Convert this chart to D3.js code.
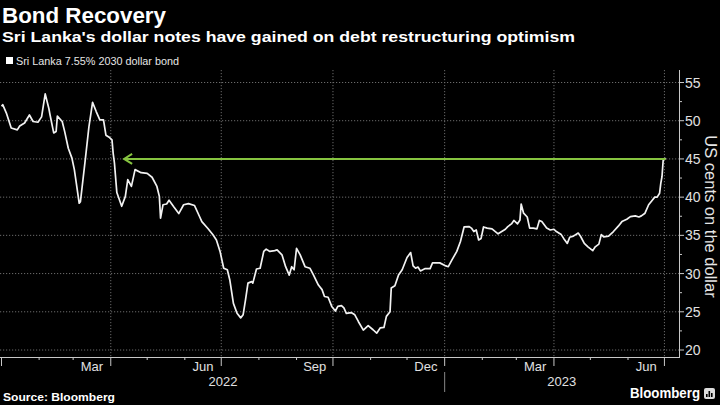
<!DOCTYPE html>
<html><head><meta charset="utf-8">
<script src="https://cdn.jsdelivr.net/npm/d3@7"></script>
<style>html,body{margin:0;padding:0;background:#000;}svg{display:block;}</style>
</head><body>
<svg id="chart" width="720" height="405"></svg>
<script>
const titleText = "Bond Recovery";
const subtitleText = "Sri Lanka's dollar notes have gained on debt restructuring optimism";
const legendText = "Sri Lanka 7.55% 2030 dollar bond";
const yAxisTitle = "US cents on the dollar";
const sourceText = "Source: Bloomberg";

const dates = [
"2022-01-01","2022-01-02","2022-01-05","2022-01-09","2022-01-14","2022-01-16","2022-01-20","2022-01-24","2022-01-27","2022-01-31",
"2022-02-03","2022-02-06","2022-02-09","2022-02-10","2022-02-13","2022-02-15","2022-02-16","2022-02-20","2022-02-22","2022-02-25","2022-02-28",
"2022-03-02","2022-03-04","2022-03-06","2022-03-07","2022-03-11","2022-03-14","2022-03-17","2022-03-20","2022-03-23","2022-03-26","2022-03-28","2022-03-31",
"2022-04-02","2022-04-03","2022-04-04","2022-04-06","2022-04-10","2022-04-13","2022-04-15","2022-04-18","2022-04-21","2022-04-26",
"2022-05-01","2022-05-05","2022-05-09","2022-05-11","2022-05-12","2022-05-14","2022-05-17","2022-05-19","2022-05-23","2022-05-27","2022-05-31",
"2022-06-04","2022-06-09","2022-06-13","2022-06-15","2022-06-20","2022-06-24","2022-06-27","2022-06-30",
"2022-07-03","2022-07-06","2022-07-08","2022-07-11","2022-07-14","2022-07-17","2022-07-19","2022-07-21","2022-07-23","2022-07-26","2022-07-27","2022-07-30",
"2022-08-02","2022-08-05","2022-08-07","2022-08-10","2022-08-14","2022-08-16","2022-08-20","2022-08-23","2022-08-26","2022-08-28","2022-08-30",
"2022-09-01","2022-09-04","2022-09-08","2022-09-12","2022-09-15","2022-09-19","2022-09-22","2022-09-24","2022-09-27","2022-09-30",
"2022-10-03","2022-10-05","2022-10-08","2022-10-10","2022-10-12","2022-10-16","2022-10-19","2022-10-22","2022-10-26","2022-10-30",
"2022-11-03","2022-11-06","2022-11-09","2022-11-12","2022-11-14","2022-11-17","2022-11-18","2022-11-21","2022-11-24","2022-11-27",
"2022-12-01","2022-12-04","2022-12-06","2022-12-08","2022-12-10","2022-12-12","2022-12-16","2022-12-20","2022-12-22","2022-12-28",
"2023-01-02","2023-01-04","2023-01-07","2023-01-11","2023-01-14","2023-01-17","2023-01-21","2023-01-23","2023-01-25","2023-01-27","2023-01-29","2023-01-31",
"2023-02-02","2023-02-05","2023-02-09","2023-02-14","2023-02-17","2023-02-20","2023-02-22","2023-02-25","2023-02-27",
"2023-03-02","2023-03-04","2023-03-05","2023-03-07","2023-03-10","2023-03-12","2023-03-15","2023-03-18","2023-03-20","2023-03-22","2023-03-26","2023-03-29",
"2023-04-01","2023-04-03","2023-04-07","2023-04-09","2023-04-12","2023-04-14","2023-04-17","2023-04-21","2023-04-23","2023-04-26","2023-04-29",
"2023-05-03","2023-05-05","2023-05-08","2023-05-10","2023-05-12","2023-05-16","2023-05-20","2023-05-24","2023-05-27","2023-05-31",
"2023-06-03","2023-06-07","2023-06-10","2023-06-12","2023-06-15","2023-06-18","2023-06-21","2023-06-23","2023-06-25","2023-06-27","2023-06-28","2023-06-29","2023-06-30",
"2023-07-02"
];
const values = [
51.9,52.1,51.0,49.05,48.8,49.3,49.7,50.75,49.9,49.8,
50.5,53.5,51.6,50.75,48.4,48.6,50.6,49.9,48.6,46.4,45.1,
43.6,41.4,39.2,39.4,44.9,49.2,52.4,51.2,50.1,50.1,48.1,47.8,
47.5,45.7,44.5,40.6,38.8,40.1,42.3,41.4,43.6,43.2,
43.1,42.6,41.4,40.1,37.25,39.0,39.1,39.6,38.7,37.85,39.0,
39.15,38.9,37.5,36.8,35.9,35.1,34.4,32.9,
30.7,30.5,29.2,26.1,24.8,24.2,24.6,26.6,28.75,28.95,28.75,30.6,
30.7,32.9,33.2,32.9,33.0,33.1,32.45,30.9,29.8,30.9,30.5,
33.3,32.45,30.9,30.7,29.8,28.5,27.9,27.0,26.9,25.7,
25.1,25.7,25.8,25.5,24.8,24.9,24.6,23.7,22.6,23.2,
22.65,22.2,22.9,22.95,24.4,25.0,28.1,28.4,29.8,30.5,
32.1,32.75,31.0,30.7,30.85,30.35,30.65,30.65,31.4,31.4,
31.0,30.9,31.8,32.9,34.2,36.1,36.15,35.95,35.5,35.7,34.4,34.6,
36.1,35.95,35.85,35.2,35.5,35.8,36.15,36.5,36.95,
36.5,37.0,39.1,37.9,37.4,35.95,35.95,35.85,36.95,36.8,35.95,35.7,
35.8,35.5,35.1,34.6,33.95,34.75,34.9,35.3,34.85,33.95,33.5,
33.0,33.5,33.85,35.1,34.8,34.9,35.5,36.2,36.8,37.1,
37.45,37.55,37.4,37.55,37.9,39.0,39.6,40.0,40.0,40.5,41.8,42.7,44.9,
45.1
];
const yTicks = [20,25,30,35,40,45,50,55];
const monthLabels = ["Mar","Jun","Sep","Dec","Mar","Jun"];
const monthLabelDates = ["2022-03-01","2022-06-01","2022-09-01","2022-12-01","2023-03-01","2023-06-01"];
const yearLabels = ["2022","2023"];
const yearStarts = ["2022-01-01","2023-01-01"];
const domainDates = ["2022-01-01","2023-07-13"];
const yDomain = [20,55];
const arrowLevel = 45;
const arrowStartDate = "2022-04-12";

const parse = d3.timeParse("%Y-%m-%d");
const data = dates.map((d,i)=>({date:parse(d), value:values[i]}));

const svg = d3.select("#chart");
svg.append("rect").attr("width",720).attr("height",405).attr("fill","#000");

const plotTop = 70, plotBottom = 357;
const x = d3.scaleTime().domain(domainDates.map(parse)).range([1.5,679]);
const y = d3.scaleLinear().domain(yDomain).range([350,82.5]);
const xLeft = 0, xRight = 679;
const FONT = "'Liberation Sans', Arial, sans-serif";

function fit(sel, w){ sel.attr("textLength", w).attr("lengthAdjust","spacingAndGlyphs"); }

// Titles
fit(svg.append("text").attr("x",2).attr("y",23).text(titleText)
  .attr("fill","#fff").attr("font-family",FONT).attr("font-weight","bold").attr("font-size",22), 164);
fit(svg.append("text").attr("x",2).attr("y",42).text(subtitleText)
  .attr("fill","#fff").attr("font-family",FONT).attr("font-weight","bold").attr("font-size",15.5), 573);

// Legend
svg.append("rect").attr("x",6).attr("y",57).attr("width",7).attr("height",7).attr("fill","#fff");
fit(svg.append("text").attr("x",16).attr("y",64.5).text(legendText)
  .attr("fill","#e6e6e6").attr("font-family",FONT).attr("font-size",11.5), 163);

// Grid
const grid = svg.append("g");
grid.selectAll("line.h").data(yTicks).join("line")
  .attr("x1",xLeft).attr("x2",xRight).attr("y1",d=>y(d)).attr("y2",d=>y(d))
  .attr("stroke","#6a6a6a").attr("stroke-width",1).attr("stroke-dasharray","1.2,1.8");
const quarterTicks = d3.timeMonth.every(3).range(x.domain()[0], x.domain()[1]).filter(d=>x(d)>5);
grid.selectAll("line.v").data(quarterTicks).join("line")
  .attr("x1",d=>x(d)).attr("x2",d=>x(d)).attr("y1",plotTop).attr("y2",plotBottom)
  .attr("stroke","#6a6a6a").attr("stroke-width",1).attr("stroke-dasharray","1.2,1.8");

// Right axis
const axisColor = "#c8c8c8";
svg.append("line").attr("x1",xRight+0.5).attr("x2",xRight+0.5).attr("y1",plotTop).attr("y2",plotBottom)
  .attr("stroke",axisColor);
const minorY = d3.range(yDomain[0]-2.5, yDomain[1]+2.6, 2.5).filter(v=>y(v)>=plotTop && y(v)<=plotBottom);
svg.selectAll("line.yt").data(minorY).join("line")
  .attr("x1",xRight).attr("x2",d=>xRight+(d%5===0?5:3)).attr("y1",d=>y(d)).attr("y2",d=>y(d))
  .attr("stroke",axisColor);
svg.selectAll("text.yl").data(yTicks).join("text")
  .attr("x",685).attr("y",d=>y(d)).attr("dy","0.36em").text(d=>d)
  .attr("fill","#e0e0e0").attr("font-family",FONT).attr("font-size",14);
svg.append("text").attr("transform",`translate(705,216.5) rotate(90)`).attr("text-anchor","middle")
  .text(yAxisTitle).attr("fill","#e6e6e6").attr("font-family",FONT).attr("font-size",16.5);

// Bottom axis
svg.append("line").attr("x1",xLeft).attr("x2",xRight+1).attr("y1",plotBottom+0.5).attr("y2",plotBottom+0.5)
  .attr("stroke",axisColor);
const monthTicks = d3.timeMonth.range(x.domain()[0], x.domain()[1]);
svg.selectAll("line.mt").data(monthTicks).join("line")
  .attr("x1",d=>x(d)).attr("x2",d=>x(d)).attr("y1",plotBottom)
  .attr("y2",d=>plotBottom+(d.getMonth()%3===0?9:3))
  .attr("stroke",axisColor);
svg.selectAll("text.ml").data(monthLabelDates).join("text")
  .attr("x",d=>{const s=parse(d); return (x(s)+x(d3.timeMonth.offset(s,1)))/2;})
  .attr("y",370.5).attr("text-anchor","middle").text((d,i)=>monthLabels[i])
  .attr("fill","#e0e0e0").attr("font-family",FONT).attr("font-size",13);
svg.selectAll("text.yr").data(yearStarts).join("text")
  .attr("x",(d,i)=>{const a=Math.max(xLeft,x(parse(d))); const b=i+1<yearStarts.length?x(parse(yearStarts[i+1])):xRight; return (a+b)/2;})
  .attr("y",386).attr("text-anchor","middle").text((d,i)=>yearLabels[i])
  .attr("fill","#e0e0e0").attr("font-family",FONT).attr("font-size",13);
svg.append("line").attr("x1",x(parse(yearStarts[1]))).attr("x2",x(parse(yearStarts[1])))
  .attr("y1",372).attr("y2",392).attr("stroke","#888");

// Line
const line = d3.line().x(d=>x(d.date)).y(d=>y(d.value)).curve(d3.curveLinear);
svg.append("path").datum(data).attr("d",line).attr("fill","none")
  .attr("stroke","#f2f2f2").attr("stroke-width",1.7).attr("stroke-linejoin","round");

// Arrow
const green = "#86c440";
const ax0 = x(parse(arrowStartDate)), ax1 = x(data[data.length-1].date), ay = y(arrowLevel);
svg.append("line").attr("x1",ax0).attr("x2",ax1).attr("y1",ay).attr("y2",ay)
  .attr("stroke",green).attr("stroke-width",2);
svg.append("path").attr("d",`M${ax0+8},${ay-5}L${ax0},${ay}L${ax0+8},${ay+5}`)
  .attr("fill","none").attr("stroke",green).attr("stroke-width",2);

// Footer
fit(svg.append("text").attr("x",3).attr("y",401).text(sourceText)
  .attr("fill","#fff").attr("font-family",FONT).attr("font-weight","bold").attr("font-size",11.5), 112);
fit(svg.append("text").attr("x",630).attr("y",398).text("Bloomberg")
  .attr("fill","#fff").attr("font-family",FONT).attr("font-weight","bold").attr("font-size",15), 70);
const ic = svg.append("g").attr("transform","translate(704,388)");
ic.append("rect").attr("width",11).attr("height",11).attr("rx",2).attr("fill","#ddd");
[[2,6],[4.5,3],[7,5]].forEach(([bx,by])=>ic.append("rect").attr("x",bx).attr("y",by).attr("width",1.6).attr("height",9-by).attr("fill","#000"));
</script>
</body></html>
